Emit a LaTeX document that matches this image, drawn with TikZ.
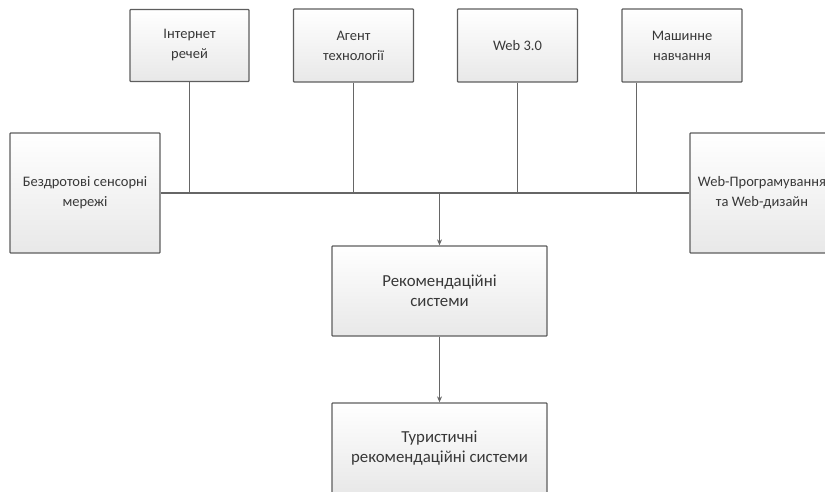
\documentclass[tikz,border=0pt]{standalone}
\usepackage{fontspec}
\setmainfont{Carlito}
\usetikzlibrary{arrows.meta}
\definecolor{boxline}{HTML}{5E5E5E}
\definecolor{wire}{HTML}{666666}
\definecolor{ink}{HTML}{383838}
\tikzset{
  block/.style={draw=boxline, line width=1.3pt, rounded corners=0.8pt,
    top color=white, bottom color=black!9, text=ink, align=center,
    inner sep=0pt},
  small/.style={font=\fontsize{14.5}{20}\selectfont},
  large/.style={font=\fontsize{16.8}{20}\selectfont},
  wireline/.style={draw=wire, line width=1.3pt},
  flow/.style={wireline, -{Stealth[length=6pt,width=5pt]}}
}
\begin{document}
\begin{tikzpicture}[x=1pt,y=-1pt]
\useasboundingbox (0,0) rectangle (825,492);
\clip (0,0) rectangle (825,492);
% upper row
\node[block, small, minimum width=119pt, minimum height=72pt] (iot) at (189.5,45.5) {Інтернет\\речей};
\node[block, small, minimum width=120pt, minimum height=73pt] (agent) at (353.5,45.5) {Агент\\технології};
\node[block, small, minimum width=120pt, minimum height=73pt] (web3) at (517.5,45.5) {Web 3.0};
\node[block, small, minimum width=120pt, minimum height=73pt] (ml) at (682,45.5) {Машинне\\навчання};
% side blocks
\node[block, small, minimum width=150pt, minimum height=120pt] (wsn) at (85,193) {Бездротові сенсорні\\мережі};
\node[block, small, minimum width=144pt, minimum height=120pt] (webdev) at (762,193) {Web-Програмування\\та Web-дизайн};
% central column
\node[block, large, minimum width=215pt, minimum height=90pt] (rs) at (439.5,291) {Рекомендаційні\\системи};
\node[block, large, minimum width=215pt, minimum height=90pt] (trs) at (439.5,448) {Туристичні\\рекомендаційні системи};
% common bus
\coordinate (busL) at (wsn.east);
\coordinate (busR) at (webdev.west);
\draw[wireline] (busL) -- (busR);
\foreach \n in {iot,agent,web3}
  \draw[wireline] (\n.south) -- (\n.south |- busL);
% the learning block joins the bus left of its centre
\coordinate (mlfoot) at (636.5,0 |- ml.south);
\draw[wireline] (mlfoot) -- (mlfoot |- busL);
\coordinate (tap) at (rs.north |- busL);
\draw[flow] (tap) -- (rs.north);
\draw[flow] (rs.south) -- (trs.north);
\end{tikzpicture}
\end{document}
